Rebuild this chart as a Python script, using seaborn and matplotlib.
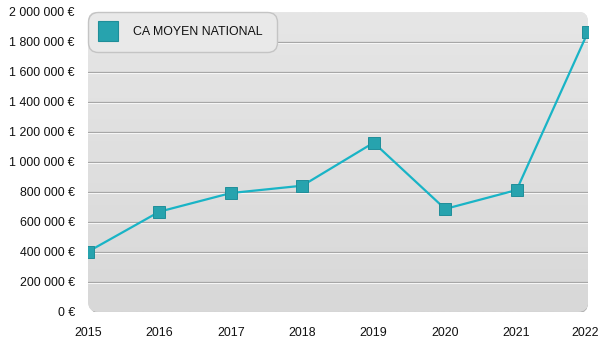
import numpy as np
import pandas as pd
import matplotlib
matplotlib.use("Agg")
import matplotlib.pyplot as plt
import matplotlib.transforms as mtransforms
from matplotlib.patches import FancyBboxPatch
from matplotlib.lines import Line2D
from matplotlib.ticker import FuncFormatter
import seaborn as sns

# Chiffre d'affaires moyen national par année
years = [2015, 2016, 2017, 2018, 2019, 2020, 2021, 2022]
ca_moyen = [400000, 667000, 791000, 840000, 1127000, 685000, 811000, 1865000]
series_label = "CA MOYEN NATIONAL"
y_ticks = [0, 200000, 400000, 600000, 800000, 1000000, 1200000, 1400000,
           1600000, 1800000, 2000000]

df = pd.DataFrame({"annee": years, "ca": ca_moyen})

sns.set_theme(style="white")
plt.rcParams["font.family"] = ["Liberation Sans", "DejaVu Sans"]

LINE = "#19b4c6"
MARK = "#27a3ae"
MARK_EDGE = "#1f8e99"

fig = plt.figure(figsize=(6, 3.5), dpi=100)
ax = fig.add_axes([88 / 600, 1 - 311.7 / 350, 500 / 600, 300 / 350])
ax.set_facecolor("none")
for s in ax.spines.values():
    s.set_visible(False)

# Rounded panel with a soft vertical gradient and a faint shadow
W, H = 500, 300
rad = 10
shadow = FancyBboxPatch((1.5 / W, -1.5 / H), 1 - 1.5 / W, 1,
                        boxstyle=f"round,pad=0,rounding_size={rad / W}",
                        transform=ax.transAxes, facecolor="#b4b4b4",
                        edgecolor="none", zorder=0, mutation_aspect=W / H)
ax.add_patch(shadow)
panel = FancyBboxPatch((0, 0), 1, 1,
                       boxstyle=f"round,pad=0,rounding_size={rad / W}",
                       transform=ax.transAxes, facecolor="#e0e0e0",
                       edgecolor="none", zorder=0.5, mutation_aspect=W / H)
ax.add_patch(panel)
grad = np.linspace(0, 1, 256).reshape(-1, 1)
im = ax.imshow(grad, extent=[0, 1, 0, 1], transform=ax.transAxes,
               cmap=matplotlib.colors.LinearSegmentedColormap.from_list(
                   "bg", ["#d8d8d8", "#e6e6e6"]),
               origin="lower", aspect="auto", zorder=0.6)
im.set_clip_path(panel)

# Grid lines: grey line with a white highlight one pixel below
px = 2000000 / 300
for v in y_ticks[1:-1]:
    ax.axhline(v, color="#a3a3a3", lw=0.9, zorder=1)
    ax.axhline(v - px, color="#f6f6f6", lw=0.8, zorder=1)

sns.lineplot(data=df, x="annee", y="ca", ax=ax, color=LINE, lw=1.6,
             marker="s", markersize=8.3, markerfacecolor=MARK,
             markeredgecolor=MARK_EDGE, markeredgewidth=0.7, zorder=3)

ax.set_xlim(2015, 2022)
ax.set_ylim(0, 2000000)
ax.set_xticks(years)
ax.set_yticks(y_ticks)
ax.yaxis.set_major_formatter(
    FuncFormatter(lambda v, _: f"{int(v):,}".replace(",", " ") + " €"))
ax.set_xlabel("")
ax.set_ylabel("")
ax.tick_params(axis="both", length=0, labelsize=8.9, colors="#111111")
ax.tick_params(axis="y", pad=9.5)
ax.tick_params(axis="x", pad=11)
ax.grid(False)

# Keep the last year label inside the canvas
last = ax.get_xticklabels()[-1]
last.set_transform(last.get_transform() +
                   mtransforms.ScaledTranslation(-3 / 100, 0, fig.dpi_scale_trans))

handle = Line2D([], [], linestyle="none", marker="s", markersize=14,
                markerfacecolor=MARK, markeredgecolor=MARK_EDGE,
                markeredgewidth=0.8)
leg = ax.legend([handle], [series_label], loc="upper left",
                bbox_to_anchor=(0.0, 1.0), borderaxespad=0.0,
                frameon=True, fancybox=True, shadow=False, fontsize=8.9,
                handlelength=1.0, handletextpad=1.5, borderpad=1.15,
                labelcolor="#111111")
frame = leg.get_frame()
frame.set_facecolor("#e9e9e9")
frame.set_edgecolor("#c4c4c4")
frame.set_linewidth(1.0)
frame.set_alpha(1)
frame.set_boxstyle("round,pad=0,rounding_size=0.8")
leg.set_zorder(5)

fig.savefig("out.png", dpi=100, facecolor="white")
